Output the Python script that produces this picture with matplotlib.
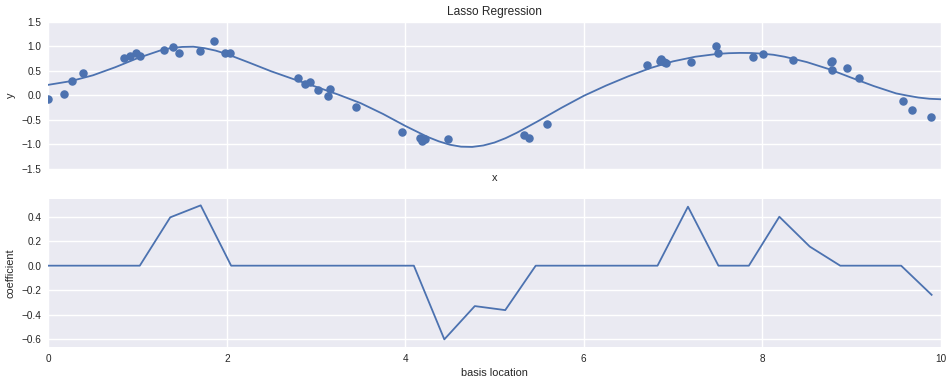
import numpy as np
import matplotlib
matplotlib.use("Agg")
import matplotlib.pyplot as plt

# ---- data ----
x_points = [0.00, 0.18, 0.269, 0.393, 0.852, 0.916, 0.986, 1.028, 1.30, 1.401,
            1.468, 1.704, 1.857, 1.984, 2.04, 2.802, 2.880, 2.936, 3.026, 3.138,
            3.160, 3.452, 3.967, 4.17, 4.19, 4.22, 4.483, 5.334, 5.39, 5.592,
            6.713, 6.85, 6.866, 6.90, 6.92, 7.206, 7.482, 7.508, 7.90, 8.012,
            8.349, 8.767, 8.786, 8.786, 8.954, 9.088, 9.581, 9.682, 9.895]
y_points = [-0.074, 0.027, 0.289, 0.45, 0.772, 0.812, 0.872, 0.812, 0.933, 0.993,
            0.872, 0.913, 1.114, 0.872, 0.872, 0.349, 0.228, 0.268, 0.107, -0.013,
            0.128, -0.242, -0.758, -0.87, -0.93, -0.90, -0.899, -0.819, -0.879, -0.577,
            0.611, 0.70, 0.752, 0.68, 0.664, 0.691, 1.013, 0.872, 0.792, 0.852,
            0.732, 0.691, 0.711, 0.523, 0.55, 0.349, -0.114, -0.295, -0.436]

fit_x = [0.0, 0.25, 0.5, 0.75, 1.0, 1.25, 1.375, 1.5, 1.625, 1.75, 1.875, 2.0,
         2.25, 2.5, 2.75, 3.0, 3.25, 3.5, 3.75, 4.0, 4.25, 4.375, 4.5, 4.625,
         4.75, 4.875, 5.0, 5.125, 5.25, 5.5, 5.75, 6.0, 6.25, 6.5, 6.75, 7.0,
         7.25, 7.5, 7.625, 7.75, 7.875, 8.0, 8.125, 8.25, 8.5, 8.75, 9.0, 9.25,
         9.5, 9.625, 9.75, 9.875, 10.0]
fit_y = [0.215, 0.29, 0.41, 0.575, 0.76, 0.915, 0.968, 0.99, 0.995, 0.965, 0.915, 0.845,
         0.67, 0.49, 0.33, 0.175, 0.015, -0.16, -0.38, -0.625, -0.85, -0.94, -1.01, -1.05,
         -1.055, -1.025, -0.965, -0.875, -0.765, -0.515, -0.255, -0.01, 0.20, 0.39, 0.56, 0.695,
         0.79, 0.848, 0.862, 0.868, 0.866, 0.852, 0.83, 0.79, 0.68, 0.535, 0.36, 0.19,
         0.04, -0.005, -0.045, -0.07, -0.08]

basis_locations = np.linspace(0.0011, 9.898, 30)
coefficients = [0, 0, 0, 0, 0.395, 0.493, 0, 0, 0, 0,
                0, 0, 0, -0.602, -0.33, -0.363, 0, 0, 0, 0,
                0, 0.482, 0, 0, 0.40, 0.156, 0, 0, 0, -0.238]

y_ticks_top = [-1.5, -1.0, -0.5, 0.0, 0.5, 1.0, 1.5]
x_ticks = [0, 2, 4, 6, 8, 10]
y_ticks_bottom = [-0.6, -0.4, -0.2, 0.0, 0.2, 0.4]

# ---- style ----
plt.rcParams['font.family'] = ['Liberation Sans', 'DejaVu Sans']
BLUE = '#4C72B0'
BG = '#EAEAF2'
TXT = '#262626'

fig = plt.figure(figsize=(9.53, 3.84), dpi=100)
ax0 = fig.add_axes([0.0507, 0.5607, 0.9364, 0.3820])
ax1 = fig.add_axes([0.0507, 0.0971, 0.9364, 0.3847], sharex=ax0)

for ax in (ax0, ax1):
    ax.set_facecolor(BG)
    for s in ax.spines.values():
        s.set_visible(False)
    ax.grid(True, color='white', linewidth=1.0)
    ax.set_axisbelow(True)
    ax.tick_params(length=0, labelsize=7.2, labelcolor=TXT, pad=5)

ax0.scatter(x_points, y_points, s=26, color=BLUE, zorder=2)
ax0.plot(fit_x, fit_y, color=BLUE, linewidth=1.3, zorder=3)
ax0.set_xlim(0, 10)
ax0.set_ylim(-1.5, 1.5)
ax0.set_yticks(y_ticks_top)
ax0.set_yticklabels([f"{v:.1f}".replace('-', '\u2212') for v in y_ticks_top])
ax0.tick_params(axis='x', labelbottom=False)
ax0.set_xlabel('x', fontsize=7.9, color=TXT, labelpad=3)
ax0.set_ylabel('y', fontsize=7.9, color=TXT, labelpad=4)
ax0.set_title('Lasso Regression', fontsize=8.6, color=TXT, pad=5)

ax1.plot(basis_locations, coefficients, color=BLUE, linewidth=1.3)
ax1.set_xticks(x_ticks)
ax1.set_xticklabels([str(v) for v in x_ticks])
ax1.set_yticks(y_ticks_bottom)
ax1.set_yticklabels([f"{v:.1f}".replace('-', '\u2212') for v in y_ticks_bottom])
ax1.set_ylim(-0.662, 0.545)
ax1.set_xlim(0, 10)
ax1.set_xlabel('basis location', fontsize=7.9, color=TXT, labelpad=3)
ax1.set_ylabel('coefficient', fontsize=7.9, color=TXT, labelpad=4)

fig.savefig('out.png', dpi=100)
